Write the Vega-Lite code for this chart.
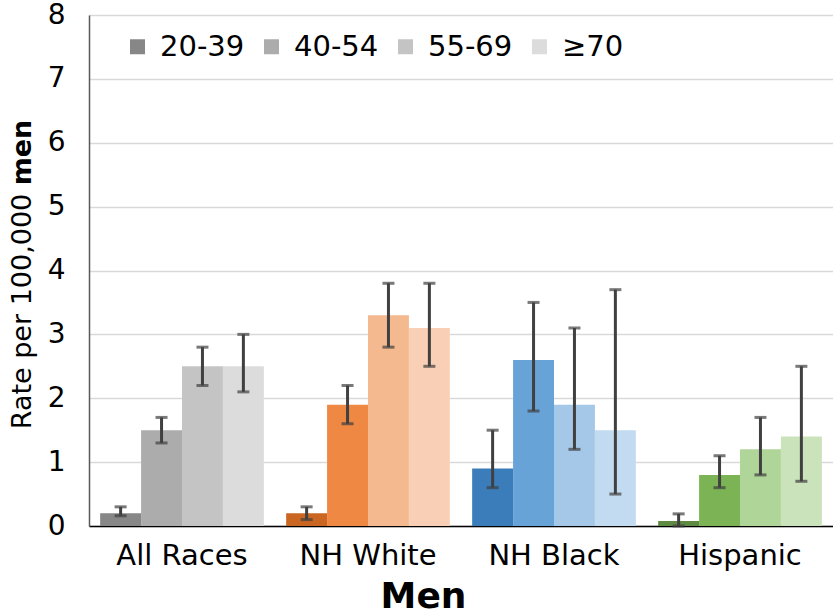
{
  "$schema": "https://vega.github.io/schema/vega-lite/v6.json",
  "width": 744,
  "height": 511,
  "autosize": {"type": "none"},
  "padding": {"left": 89, "top": 15, "right": 0, "bottom": 89},
  "background": "white",
  "config": {
    "view": {"stroke": null},
    "font": "DejaVu Sans",
    "axis": {"labelFont": "DejaVu Sans", "titleFont": "DejaVu Sans", "labelColor": "black", "titleColor": "black"},
    "legend": {"labelFont": "DejaVu Sans"}
  },
  "data": {
    "values": [
      {"group": "All Races", "age": "20-39", "key": "All Races|20-39", "value": 0.2, "lo": 0.16, "hi": 0.3},
      {"group": "All Races", "age": "40-54", "key": "All Races|40-54", "value": 1.5, "lo": 1.3, "hi": 1.7},
      {"group": "All Races", "age": "55-69", "key": "All Races|55-69", "value": 2.5, "lo": 2.2, "hi": 2.8},
      {"group": "All Races", "age": "≥70", "key": "All Races|≥70", "value": 2.5, "lo": 2.1, "hi": 3.0},
      {"group": "NH White", "age": "20-39", "key": "NH White|20-39", "value": 0.2, "lo": 0.1, "hi": 0.3},
      {"group": "NH White", "age": "40-54", "key": "NH White|40-54", "value": 1.9, "lo": 1.6, "hi": 2.2},
      {"group": "NH White", "age": "55-69", "key": "NH White|55-69", "value": 3.3, "lo": 2.8, "hi": 3.8},
      {"group": "NH White", "age": "≥70", "key": "NH White|≥70", "value": 3.1, "lo": 2.5, "hi": 3.8},
      {"group": "NH Black", "age": "20-39", "key": "NH Black|20-39", "value": 0.9, "lo": 0.6, "hi": 1.5},
      {"group": "NH Black", "age": "40-54", "key": "NH Black|40-54", "value": 2.6, "lo": 1.8, "hi": 3.5},
      {"group": "NH Black", "age": "55-69", "key": "NH Black|55-69", "value": 1.9, "lo": 1.2, "hi": 3.1},
      {"group": "NH Black", "age": "≥70", "key": "NH Black|≥70", "value": 1.5, "lo": 0.5, "hi": 3.7},
      {"group": "Hispanic", "age": "20-39", "key": "Hispanic|20-39", "value": 0.08, "lo": 0.0, "hi": 0.19},
      {"group": "Hispanic", "age": "40-54", "key": "Hispanic|40-54", "value": 0.8, "lo": 0.6, "hi": 1.1},
      {"group": "Hispanic", "age": "55-69", "key": "Hispanic|55-69", "value": 1.2, "lo": 0.8, "hi": 1.7},
      {"group": "Hispanic", "age": "≥70", "key": "Hispanic|≥70", "value": 1.4, "lo": 0.7, "hi": 2.5}
    ]
  },
  "encoding": {
    "x": {
      "field": "group", "type": "nominal",
      "sort": ["All Races", "NH White", "NH Black", "Hispanic"],
      "scale": {"paddingInner": 0.12, "paddingOuter": 0.06},
      "axis": {
        "title": "Men", "titleFontSize": 36, "titleFontWeight": "bold", "titlePadding": 9,
        "titleX": 334, "titleAlign": "center", "titleAnchor": "start",
        "labelFontSize": 29, "labelAngle": 0, "labelPadding": 15, "ticks": false,
        "domainColor": "black", "domainWidth": 1.5
      }
    },
    "xOffset": {
      "field": "age", "type": "nominal",
      "sort": ["20-39", "40-54", "55-69", "≥70"],
      "scale": {"paddingInner": 0, "paddingOuter": 0}
    }
  },
  "layer": [
    {
      "mark": {"type": "bar"},
      "encoding": {
        "y": {
          "field": "value", "type": "quantitative",
          "scale": {"domain": [0, 8], "nice": false},
          "axis": {
            "title": "Rate per 100,000", "titleFontSize": 27, "titleFontWeight": "normal",
            "titleAngle": -90, "titleAlign": "center", "titleBaseline": "middle",
            "titleX": -67, "titleY": 296,
            "labelFontSize": 28, "labelPadding": 24, "ticks": false,
            "values": [0, 1, 2, 3, 4, 5, 6, 7, 8],
            "grid": true, "gridColor": "#d9d9d9", "gridWidth": 1.5,
            "domainColor": "#595959", "domainWidth": 1.5
          }
        },
        "color": {
          "field": "key", "type": "nominal", "legend": null,
          "scale": {
            "domain": [
              "All Races|20-39", "All Races|40-54", "All Races|55-69", "All Races|≥70",
              "NH White|20-39", "NH White|40-54", "NH White|55-69", "NH White|≥70",
              "NH Black|20-39", "NH Black|40-54", "NH Black|55-69", "NH Black|≥70",
              "Hispanic|20-39", "Hispanic|40-54", "Hispanic|55-69", "Hispanic|≥70"
            ],
            "range": [
              "#878787", "#acacac", "#c4c4c4", "#dcdcdc",
              "#ca6622", "#ef8843", "#f5b98f", "#f9d0b5",
              "#3a7dba", "#68a3d8", "#a5c8e8", "#c3dbf0",
              "#5f8a42", "#7bb355", "#b0d598", "#cae3bb"
            ]
          }
        }
      }
    },
    {
      "mark": {"type": "bar", "opacity": 0},
      "encoding": {
        "y": {
          "field": "value", "type": "quantitative",
          "axis": {
            "orient": "left",
            "title": "men", "titleFontSize": 27, "titleFontWeight": "bold",
            "titleAngle": -90, "titleAlign": "center", "titleBaseline": "middle",
            "titleX": -67, "titleY": 137,
            "labels": false, "ticks": false, "domain": false, "grid": false
          }
        },
        "fill": {
          "field": "age", "type": "nominal",
          "sort": ["20-39", "40-54", "55-69", "≥70"],
          "scale": {"domain": ["20-39", "40-54", "55-69", "≥70"], "range": ["#878787", "#acacac", "#c4c4c4", "#dcdcdc"]},
          "legend": {
            "title": null, "orient": "none", "direction": "horizontal",
            "legendX": 34, "legendY": 17,
            "symbolType": "square", "symbolSize": 225, "symbolOpacity": 1, "symbolStrokeWidth": 0,
            "labelFontSize": 29, "labelColor": "black", "labelOffset": 8, "columnPadding": 12
          }
        }
      }
    },
    {
      "mark": {"type": "rule", "color": "#404040", "strokeWidth": 3},
      "encoding": {
        "y": {"field": "lo", "type": "quantitative", "axis": null},
        "y2": {"field": "hi"}
      }
    },
    {
      "mark": {"type": "tick", "color": "#404040", "thickness": 3, "size": 12, "orient": "horizontal"},
      "encoding": {
        "y": {"field": "lo", "type": "quantitative", "axis": null}
      }
    },
    {
      "mark": {"type": "tick", "color": "#404040", "thickness": 3, "size": 12, "orient": "horizontal"},
      "encoding": {
        "y": {"field": "hi", "type": "quantitative", "axis": null}
      }
    }
  ],
  "resolve": {"axis": {"y": "independent"}}
}
